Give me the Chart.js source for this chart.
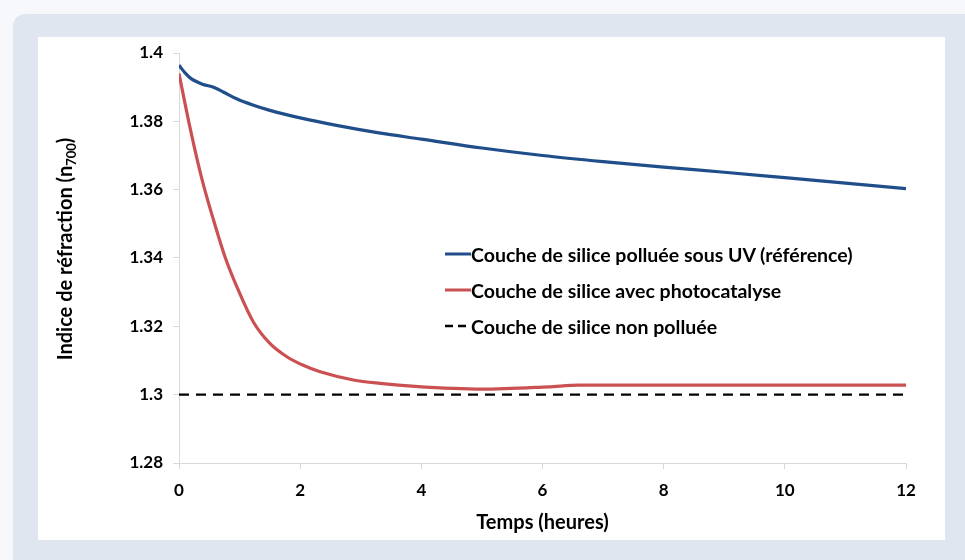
<!DOCTYPE html>
<html lang="fr">
<head>
<meta charset="utf-8">
<script src="https://cdn.jsdelivr.net/npm/chart.js@4.4.1/dist/chart.umd.min.js"></script>
<style>
  html, body { margin: 0; padding: 0; }
  body { width: 965px; height: 560px; background: #f6f8fb; position: relative; overflow: hidden; font-family: Lato, sans-serif; }
  #frame { position: absolute; left: 13px; top: 14px; width: 990px; height: 590px; background: #dfe6f0; border-radius: 12px; }
  #panel { position: absolute; left: 38px; top: 37px; width: 907px; height: 503px; background: #fff; }
  #legend { position: absolute; left: 445px; top: 236px; font: bold 19.5px Lato, sans-serif; color: #000; }
  #legend .row { display: flex; align-items: center; height: 36px; white-space: nowrap; }
  #legend svg { width: 26px; height: 10px; flex: none; }
</style>
</head>
<body>
<div id="frame"></div>
<div id="panel"><canvas id="chart" width="907" height="503"></canvas></div>
<div id="legend"></div>
<script>
// temps en heures et indice de réfraction mesuré
var timeRef = [0, 0.1, 0.2, 0.4, 0.57, 0.73, 0.95, 1.23, 1.5, 2, 2.6, 3.3, 4, 5, 6, 7, 8, 9, 10, 11, 12]
var nRef = [1.3964, 1.3942, 1.3925, 1.3908, 1.39, 1.3886, 1.3866, 1.3847, 1.3832, 1.381, 1.3788, 1.3766, 1.3748, 1.3722, 1.37, 1.3682, 1.3666, 1.3651, 1.3635, 1.3619, 1.3603]

var timePhoto = [0, 0.18, 0.37, 0.57, 0.76, 0.95, 1.23, 1.5, 1.78, 2.05, 2.33, 2.88, 3.32, 3.9, 5, 6.1, 6.6, 8, 10, 12]
var nPhoto = [1.394, 1.3783, 1.3637, 1.3511, 1.3403, 1.3318, 1.3212, 1.315, 1.3111, 1.3086, 1.3067, 1.3043, 1.3033, 1.3024, 1.3016, 1.3023, 1.3028, 1.3028, 1.3028, 1.3028]

var timeClean = [0, 12]
var nClean = [1.3, 1.3]

var seriesLabels = [
  'Couche de silice polluée sous UV (référence)',
  'Couche de silice avec photocatalyse',
  'Couche de silice non polluée',
]
var xTicks = [0, 2, 4, 6, 8, 10, 12]
var yTicks = [1.28, 1.3, 1.32, 1.34, 1.36, 1.38, 1.4]
var xTitle = 'Temps (heures)'
var yTitle = ['Indice de réfraction (n', '700', ')']

function points(xs, ys) {
  return xs.map(function (x, i) { return { x: x, y: ys[i] } })
}

var FONT = 'Lato'

// titres des axes dessinés à la main (indice en petit)
var axisTitles = {
  id: 'axisTitles',
  afterDraw: function (chart) {
    var ctx = chart.ctx
    var area = chart.chartArea
    ctx.save()
    ctx.fillStyle = '#000'
    ctx.font = 'bold 20px ' + FONT
    ctx.textAlign = 'center'
    ctx.textBaseline = 'middle'
    ctx.fillText(xTitle, (area.left + area.right) / 2, area.bottom + 60)

    ctx.translate(27, 212)
    ctx.rotate(-Math.PI / 2)
    ctx.textAlign = 'left'
    ctx.textBaseline = 'alphabetic'
    ctx.font = 'bold 20px ' + FONT
    var w1 = ctx.measureText(yTitle[0]).width
    var w3 = ctx.measureText(yTitle[2]).width
    ctx.font = 'bold 13px ' + FONT
    var w2 = ctx.measureText(yTitle[1]).width
    var x = -(w1 + w2 + w3) / 2
    ctx.font = 'bold 20px ' + FONT
    ctx.fillText(yTitle[0], x, 7)
    x += w1
    ctx.font = 'bold 13px ' + FONT
    ctx.fillText(yTitle[1], x, 11)
    x += w2
    ctx.font = 'bold 20px ' + FONT
    ctx.fillText(yTitle[2], x, 7)
    ctx.restore()
  },
}

var axisColor = '#d9d9d9'

var chart = new Chart(document.getElementById('chart').getContext('2d'), {
  type: 'line',
  data: {
    datasets: [
      {
        label: seriesLabels[0],
        data: points(timeRef, nRef),
        borderColor: '#1f4e8a',
        borderWidth: 3.2,
        cubicInterpolationMode: 'monotone',
        pointRadius: 0,
      },
      {
        label: seriesLabels[1],
        data: points(timePhoto, nPhoto),
        borderColor: '#cb5052',
        borderWidth: 3.2,
        cubicInterpolationMode: 'monotone',
        pointRadius: 0,
      },
      {
        label: seriesLabels[2],
        data: points(timeClean, nClean),
        borderColor: '#000',
        borderWidth: 2.4,
        borderDash: [10, 7],
        pointRadius: 0,
      },
    ],
  },
  options: {
    responsive: false,
    animation: false,
    layout: { padding: { top: 16, right: 39, bottom: 0, left: 0 } },
    plugins: { legend: { display: false }, tooltip: { enabled: false } },
    scales: {
      x: {
        type: 'linear',
        min: 0,
        max: 12,
        afterBuildTicks: function (scale) {
          scale.ticks = xTicks.map(function (v) { return { value: v } })
        },
        afterFit: function (scale) { scale.height = 77 },
        grid: { drawOnChartArea: false, color: axisColor, tickLength: 6 },
        border: { color: axisColor, width: 1 },
        ticks: { color: '#000', padding: 11, font: { family: FONT, size: 17, weight: 'bold' } },
      },
      y: {
        min: 1.28,
        max: 1.4,
        afterBuildTicks: function (scale) {
          scale.ticks = yTicks.map(function (v) { return { value: v } })
        },
        afterFit: function (scale) {
          scale.width = 141
          scale.paddingTop = 0
          scale.paddingBottom = 0
        },
        grid: { drawOnChartArea: false, color: axisColor, tickLength: 6 },
        border: { color: axisColor, width: 1 },
        ticks: {
          color: '#000',
          padding: 10,
          font: { family: FONT, size: 17, weight: 'bold' },
          callback: function (v) { return String(parseFloat(v.toFixed(2))) },
        },
      },
    },
  },
  plugins: [axisTitles],
})

// légende
var legend = document.getElementById('legend')
chart.data.datasets.forEach(function (ds) {
  var row = document.createElement('div')
  row.className = 'row'
  var dash = ds.borderDash ? ' stroke-dasharray="8 5"' : ''
  row.innerHTML = '<svg viewBox="0 0 26 10"><line x1="0" y1="5" x2="26" y2="5" stroke="' + ds.borderColor +
    '" stroke-width="' + (ds.borderDash ? 2.4 : 3) + '"' + dash + '/></svg><span>' + ds.label + '</span>'
  legend.appendChild(row)
})
</script>
</body>
</html>
